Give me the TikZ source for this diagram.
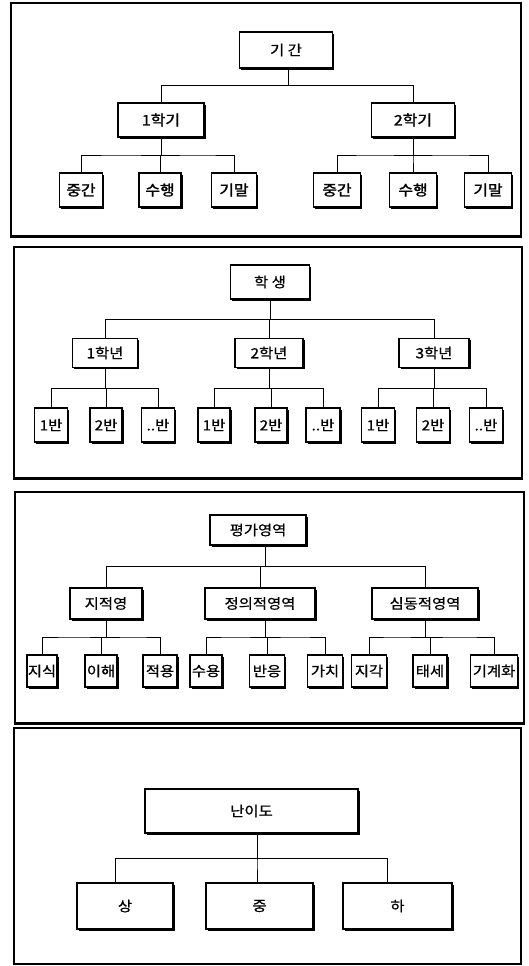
\documentclass[tikz,border=0pt]{standalone}
\usepackage{fontspec}
\newfontfamily\kr[FakeStretch=1.1,FakeBold=0.7]{Noto Sans CJK KR}
\newfontfamily\krb[FakeStretch=1.1,FakeBold=1.6]{Noto Sans CJK KR}
\usetikzlibrary{shadows,calc}
\begin{document}
\begin{tikzpicture}[x=1pt,y=-1pt,
  bx/.style={draw, line width=1.1pt, fill=white, inner sep=0pt, align=center,
    font=\kr\fontsize{14}{16}\selectfont,
    drop shadow={shadow xshift=1.8pt, shadow yshift=-1.8pt, fill=black, opacity=1}},
  bold/.style={font=\krb\fontsize{14.5}{16}\selectfont},
  ln/.style={line width=1.1pt},
  frm/.style={line width=1.2pt},
  tree/.style={ln, to path={|- ($(\tikztostart)!0.5!(\tikztotarget)$) -| (\tikztotarget)}},
]
\useasboundingbox (0,0) rectangle (528,966);

% frames
\draw[frm] (11,3) rectangle (521,237);
\draw[line width=2.6pt] (11,236) -- (521.6,236);
\draw[line width=2pt] (520.6,3) -- (520.6,237);
\draw[frm] (14,247) rectangle (522,479);
\draw[line width=2.6pt] (14,478) -- (522.6,478);
\draw[line width=1.8pt] (521.6,247) -- (521.6,479);
\draw[frm] (15,492) rectangle (524,724);
\draw[line width=2.6pt] (15,723) -- (524.6,723);
\draw[line width=1.8pt] (523.6,492) -- (523.6,724);
\draw[frm] (14,728) rectangle (521,964);

% panel 1
\node[bx, minimum width=93pt, minimum height=36pt] (k0) at (286,50) {기 간};
\node[bx, bold, minimum width=86pt, minimum height=34pt] (k1) at (161,120) {1학기};
\node[bx, bold, minimum width=83pt, minimum height=34pt] (k2) at (413,120) {2학기};
\node[bx, bold, minimum width=43pt, minimum height=34pt] (k11) at (81,190) {중간};
\node[bx, bold, minimum width=42pt, minimum height=34pt] (k12) at (160,190) {수행};
\node[bx, bold, minimum width=45pt, minimum height=34pt] (k13) at (234,190) {기말};
\node[bx, bold, minimum width=47pt, minimum height=34pt] (k21) at (337,190) {중간};
\node[bx, bold, minimum width=47pt, minimum height=34pt] (k22) at (413,190) {수행};
\node[bx, bold, minimum width=47pt, minimum height=34pt] (k23) at (488,190) {기말};
\foreach \c in {k1,k2} \draw ([xshift=2pt]k0.south) to[tree] (\c.north);
\foreach \c in {k11,k12,k13} \draw (k1.south) to[tree] (\c.north);
\foreach \c in {k21,k22,k23} \draw (k2.south) to[tree] (\c.north);

% panel 2
\node[bx, minimum width=79pt, minimum height=34pt] (h0) at (270,282) {학 생};
\node[bx, minimum width=65pt, minimum height=29pt] (h1) at (105,353) {1학년};
\node[bx, minimum width=68pt, minimum height=29pt] (h2) at (269,353) {2학년};
\node[bx, minimum width=70pt, minimum height=29pt] (h3) at (434,353) {3학년};
\node[bx, minimum width=33pt, minimum height=34pt] (h11) at (51,425) {1반};
\node[bx, minimum width=32pt, minimum height=34pt] (h12) at (106,425) {2반};
\node[bx, minimum width=33pt, minimum height=34pt] (h13) at (158,425) {..반};
\node[bx, minimum width=32pt, minimum height=34pt] (h21) at (214,425) {1반};
\node[bx, minimum width=32pt, minimum height=34pt] (h22) at (271,425) {2반};
\node[bx, minimum width=34pt, minimum height=34pt] (h23) at (323,425) {..반};
\node[bx, minimum width=33pt, minimum height=34pt] (h31) at (378,425) {1반};
\node[bx, minimum width=33pt, minimum height=34pt] (h32) at (433,425) {2반};
\node[bx, minimum width=33pt, minimum height=34pt] (h33) at (486,425) {..반};
\foreach \c in {h1,h2,h3} \draw (h0.south) to[tree] (\c.north);
\foreach \c in {h11,h12,h13} \draw (h1.south) to[tree] (\c.north);
\foreach \c in {h21,h22,h23} \draw (h2.south) to[tree] (\c.north);
\foreach \c in {h31,h32,h33} \draw (h3.south) to[tree] (\c.north);

% panel 3
\node[bx, minimum width=96pt, minimum height=30pt] (e0) at (258,530) {평가영역};
\node[bx, minimum width=72pt, minimum height=31pt] (e1) at (106,603.5) {지적영};
\node[bx, minimum width=110pt, minimum height=31pt] (e2) at (260,603.5) {정의적영역};
\node[bx, minimum width=106pt, minimum height=31pt] (e3) at (425,603.5) {심동적영역};
\node[bx, minimum width=30pt, minimum height=32pt] (e11) at (42,671) {지식};
\node[bx, minimum width=32pt, minimum height=32pt] (e12) at (101,671) {이해};
\node[bx, minimum width=34pt, minimum height=32pt] (e13) at (160,671) {적용};
\node[bx, minimum width=32pt, minimum height=32pt] (e21) at (206,671) {수용};
\node[bx, minimum width=35pt, minimum height=32pt] (e22) at (267,671) {반응};
\node[bx, minimum width=35pt, minimum height=32pt] (e23) at (325,671) {가치};
\node[bx, minimum width=35pt, minimum height=32pt] (e31) at (369,671) {지각};
\node[bx, minimum width=34pt, minimum height=32pt] (e32) at (430,671) {태세};
\node[bx, minimum width=47pt, minimum height=32pt] (e33) at (494,671) {기계화};
\foreach \c in {e1,e2,e3} \draw ([xshift=7pt]e0.south) to[tree] (\c.north);
\foreach \c in {e11,e12,e13} \draw (e1.south) to[tree] (\c.north);
\foreach \c in {e21,e22,e23} \draw ([xshift=5pt]e2.south) to[tree] (\c.north);
\foreach \c in {e31,e32,e33} \draw (e3.south) to[tree] (\c.north);

% panel 4
\node[bx, minimum width=213pt, minimum height=44pt] (d0) at (251.5,811) {난이도};
\node[bx, minimum width=96pt, minimum height=46pt] (d1) at (125,906) {상};
\node[bx, minimum width=107pt, minimum height=46pt] (d2) at (259.5,906) {중};
\node[bx, minimum width=109pt, minimum height=46pt] (d3) at (397.5,906) {하};
\draw ([xshift=5.5pt]d0.south) to[tree] ([xshift=-10pt]d1.north);
\draw ([xshift=5.5pt]d0.south) to[tree] ([xshift=-2.5pt]d2.north);
\draw ([xshift=5.5pt]d0.south) to[tree] ([xshift=-10pt]d3.north);
\end{tikzpicture}
\end{document}
